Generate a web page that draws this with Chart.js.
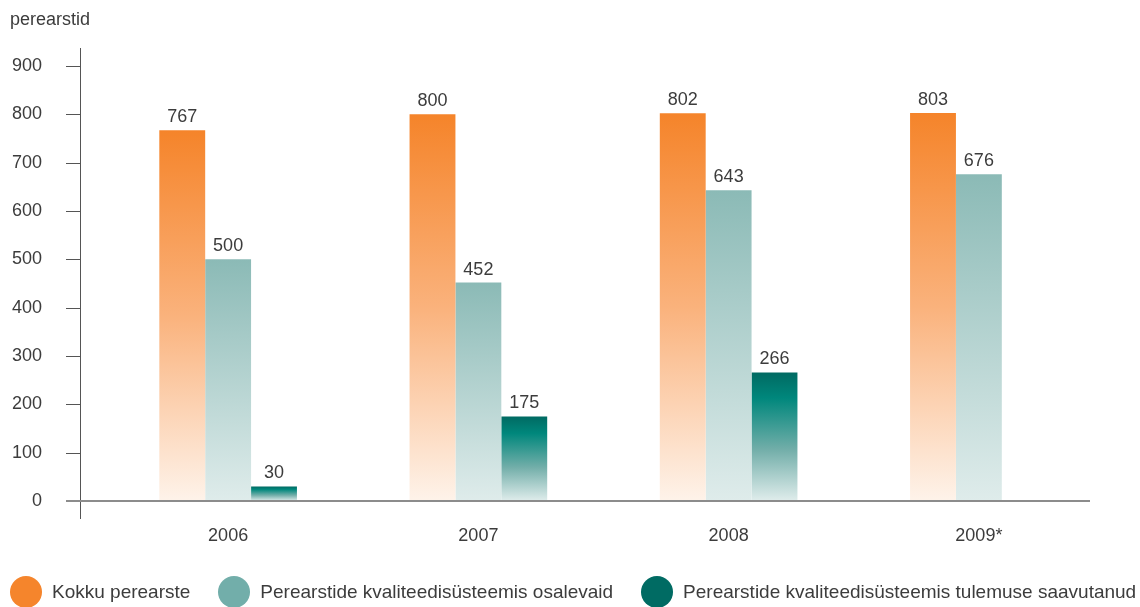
<!DOCTYPE html>
<html>
<head>
<meta charset="utf-8">
<script src="https://cdn.jsdelivr.net/npm/chart.js@4"></script>
<style>
  body { margin: 0; background: #fff; font-family: "Liberation Sans", Arial, sans-serif; }
  #wrap { position: relative; width: 1140px; height: 607px; }
  #unit { position: absolute; left: 10px; top: 9px; font-size: 18px; color: #3c3c3c; }
  #legend { position: absolute; left: 10px; top: 576px; display: flex; font-size: 19px; color: #3c3c3c; }
  .item { display: flex; align-items: center; margin-right: 28px; white-space: nowrap; }
  .dot { width: 32px; height: 32px; border-radius: 50%; margin-right: 10px; }
</style>
</head>
<body>
<div id="wrap">
  <canvas id="myChart" width="1140" height="607"></canvas>
  <div id="unit">perearstid</div>
  <div id="legend"></div>
</div>
<script>
  // andmed
  const years = ['2006', '2007', '2008', '2009*'];
  const kokku = [767, 800, 802, 803];
  const osalevaid = [500, 452, 643, 676];
  const saavutanud = [30, 175, 266, null];
  const yTicks = [0, 100, 200, 300, 400, 500, 600, 700, 800, 900];

  const seriesNames = ['Kokku perearste', 'Perearstide kvaliteedisüsteemis osalevaid', 'Perearstide kvaliteedisüsteemis tulemuse saavutanud'];
  const legendColors = ['#f5852c', '#72aeaa', '#006b63'];
  const gradStops = [
    [[0, '#f5842a'], [0.5, '#fab27c'], [1, '#fef3ea']],
    [[0, '#8bbab6'], [1, '#dfeceb']],
    [[0, '#006a62'], [0.2, '#00877c'], [0.6, '#72aea9'], [1, '#e0edec']]
  ];
  const fontFam = '"Liberation Sans", Arial, sans-serif';

  function barGradient(i) {
    return (c) => {
      const chart = c.chart;
      if (!chart.chartArea || c.raw == null) return legendColors[i];
      const y = chart.scales.y;
      const top = y.getPixelForValue(c.raw);
      const base = y.getPixelForValue(0);
      const g = chart.ctx.createLinearGradient(0, top, 0, base);
      gradStops[i].forEach(s => g.addColorStop(s[0], s[1]));
      return g;
    };
  }

  // teljed ja väärtused
  const axesAndLabels = {
    id: 'axesAndLabels',
    afterDatasetsDraw(chart) {
      const ctx = chart.ctx;
      const area = chart.chartArea;
      const y = chart.scales.y;
      const axX = area.left - 23;
      ctx.save();
      ctx.strokeStyle = '#555';
      ctx.lineWidth = 1;
      ctx.beginPath();
      ctx.moveTo(axX + 0.5, y.getPixelForValue(900) - 18);
      ctx.lineTo(axX + 0.5, y.getPixelForValue(0) + 18);
      yTicks.forEach(v => {
        if (v === 0) return;
        const py = Math.round(y.getPixelForValue(v)) + 0.5;
        ctx.moveTo(axX - 14, py);
        ctx.lineTo(axX, py);
      });
      ctx.stroke();
      ctx.strokeStyle = '#8c8c8c';
      ctx.lineWidth = 2;
      ctx.beginPath();
      const zy = Math.round(y.getPixelForValue(0));
      ctx.moveTo(axX - 14, zy);
      ctx.lineTo(area.right - 14, zy);
      ctx.stroke();

      ctx.fillStyle = '#3c3c3c';
      ctx.font = '18px ' + fontFam;
      ctx.textAlign = 'center';
      ctx.textBaseline = 'bottom';
      chart.data.datasets.forEach((ds, i) => {
        chart.getDatasetMeta(i).data.forEach((bar, j) => {
          if (ds.data[j] == null) return;
          ctx.fillText(String(ds.data[j]), bar.x, bar.y - 4);
        });
      });
      ctx.restore();
    }
  };

  const data = {
    labels: years,
    datasets: [
      { label: seriesNames[0], data: kokku, backgroundColor: barGradient(0) },
      { label: seriesNames[1], data: osalevaid, backgroundColor: barGradient(1) },
      { label: seriesNames[2], data: saavutanud, backgroundColor: barGradient(2) }
    ]
  };

  const ctx = document.getElementById('myChart').getContext('2d');
  const myChart = new Chart(ctx, {
    type: 'bar',
    data: data,
    options: {
      responsive: false,
      animation: false,
      layout: { padding: { top: 66, right: 36, left: 0, bottom: 0 } },
      datasets: { bar: { categoryPercentage: 0.55, barPercentage: 1 } },
      plugins: {
        legend: { display: false },
        tooltip: { enabled: false }
      },
      scales: {
        x: {
          grid: { display: false, drawTicks: false },
          border: { display: false },
          ticks: { color: '#3c3c3c', padding: 24, font: { size: 18, family: fontFam } },
          afterFit: (s) => { s.height = 106; s.paddingLeft = 0; s.paddingRight = 0; }
        },
        y: {
          min: 0,
          max: 900,
          grid: { display: false, drawTicks: false },
          border: { display: false },
          afterBuildTicks: (s) => { s.ticks = yTicks.map(v => ({ value: v })); },
          ticks: { color: '#3c3c3c', padding: 61, font: { size: 18, family: fontFam } },
          afterFit: (s) => { s.width = 103; s.paddingTop = 0; s.paddingBottom = 0; }
        }
      }
    },
    plugins: [axesAndLabels]
  });

  const legend = document.getElementById('legend');
  seriesNames.forEach((name, i) => {
    const item = document.createElement('div');
    item.className = 'item';
    item.innerHTML = '<span class="dot" style="background:' + legendColors[i] + '"></span><span>' + name + '</span>';
    legend.appendChild(item);
  });
</script>
</body>
</html>
